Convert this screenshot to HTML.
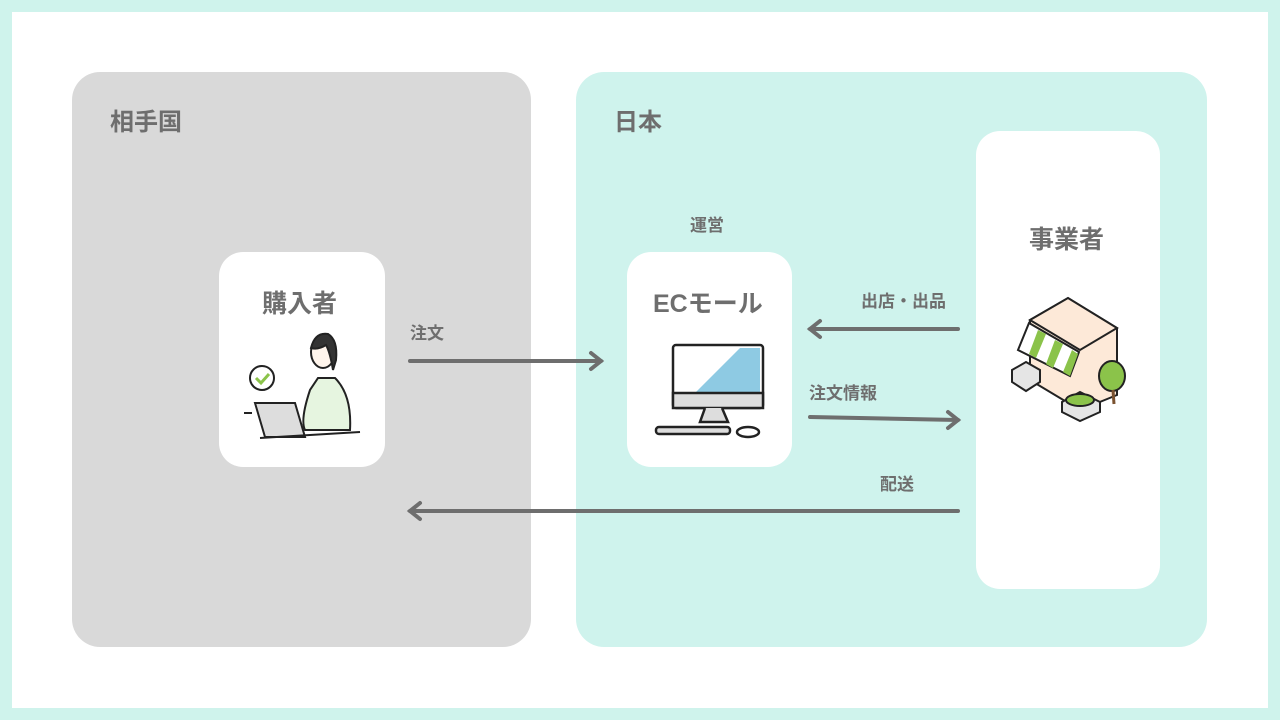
<!DOCTYPE html>
<html><head><meta charset="utf-8"><style>
body{margin:0;width:1280px;height:720px;background:#cff3ec;position:relative;overflow:hidden;font-family:"Liberation Sans","Noto Sans CJK JP",sans-serif;color:#6e6e6e;font-weight:bold}
.a{position:absolute}
.t{position:absolute;white-space:nowrap}
</style></head><body>
<div class="a" style="left:12px;top:12px;width:1256px;height:696px;background:#fff"></div>
<div class="a" style="left:72px;top:72px;width:459px;height:575px;background:#d9d9d9;border-radius:28px"></div>
<div class="a" style="left:576px;top:72px;width:631px;height:575px;background:#cff3ed;border-radius:28px"></div>
<div class="t" style="left:110px;top:102px;font-size:24px">相手国</div>
<div class="t" style="left:614px;top:102px;font-size:24px">日本</div>
<div class="a" style="left:219px;top:252px;width:166px;height:215px;background:#fff;border-radius:24px"></div>
<div class="a" style="left:627px;top:252px;width:165px;height:215px;background:#fff;border-radius:24px"></div>
<div class="a" style="left:976px;top:131px;width:184px;height:458px;background:#fff;border-radius:24px"></div>
<div class="t" style="left:262px;top:284px;font-size:25px">購入者</div>
<div class="t" style="left:653px;top:284px;font-size:25px">ECモール</div>
<div class="t" style="left:1029px;top:220px;font-size:25px">事業者</div>
<div class="t" style="left:690px;top:211px;font-size:17px">運営</div>
<div class="t" style="left:410px;top:319px;font-size:17px">注文</div>
<div class="t" style="left:861px;top:287px;font-size:17px">出店・出品</div>
<div class="t" style="left:809px;top:379px;font-size:17px">注文情報</div>
<div class="t" style="left:880px;top:470px;font-size:17px">配送</div>
<svg class="a" style="left:0;top:0" width="1280" height="720">
<g stroke="#6e6e6e" stroke-width="4" fill="none" stroke-linecap="round">
<line x1="410" y1="361" x2="601" y2="361"/><polyline points="591,353 601,361 591,369"/>
<line x1="958" y1="329" x2="810" y2="329"/><polyline points="820,321 810,329 820,337"/>
<line x1="810" y1="417" x2="958" y2="420"/><polyline points="948,412 958,420 948,428"/>
<line x1="958" y1="511" x2="410" y2="511"/><polyline points="420,503 410,511 420,519"/>
</g>
<g stroke="#222" stroke-width="2">
<circle cx="262" cy="378" r="12" fill="#fff"/>
<polyline points="256,378 261,383 269,374" stroke="#8bc34a" stroke-width="3" fill="none"/>
<path d="M310,390 Q300,420 305,430 L350,430 Q352,395 335,378 L318,378 Z" fill="#e6f5e0"/>
<ellipse cx="323" cy="352" rx="12" ry="16" fill="#fff5ec"/>
<path d="M311,348 Q315,332 328,334 Q338,340 336,360 L333,370 Q330,352 326,345 Q318,350 311,348Z" fill="#333"/>
<polygon points="255,403 295,403 305,437 265,437" fill="#ddd"/>
<line x1="260" y1="438" x2="360" y2="432"/>
<line x1="244" y1="413" x2="252" y2="413"/>
</g>
<g stroke="#222" stroke-width="2.5">
<rect x="673" y="345" width="90" height="63" rx="3" fill="#fff"/>
<polygon points="695,393 740,348 760,348 760,393" fill="#8ecae3" stroke="none"/>
<rect x="673" y="393" width="90" height="15" fill="#ddd"/>
<path d="M705,408 L700,422 L728,422 L722,408" fill="#ddd"/>
<rect x="656" y="427" width="74" height="7" rx="3" fill="#ddd"/>
<ellipse cx="748" cy="432" rx="11" ry="5" fill="#fff"/>
</g>
<g stroke="#222" stroke-width="2">
<polygon points="1030,320 1068,298 1117,328 1117,395 1080,410 1030,380" fill="#fde9d8"/>
<polygon points="1030,320 1068,298 1117,328 1080,350" fill="#fde9d8"/>
<polygon points="1029,323 1079,352 1070,376 1018,350" fill="#fff"/>
<g fill="#8bc34a" stroke="none"><polygon points="1038,330 1046,334 1036,358 1029,354"/><polygon points="1055,340 1063,344 1053,368 1046,364"/><polygon points="1072,350 1078,354 1070,376 1063,372"/></g>
<polygon points="1012,370 1026,362 1040,370 1040,382 1026,391 1012,382" fill="#e5e5e5"/>
<polygon points="1062,402 1080,392 1100,402 1100,412 1080,421 1062,412" fill="#e5e5e5"/>
<ellipse cx="1080" cy="400" rx="14" ry="6" fill="#8bc34a"/>
<ellipse cx="1112" cy="376" rx="13" ry="15" fill="#8bc34a"/>
<line x1="1113" y1="390" x2="1114" y2="404" stroke="#7a5230" stroke-width="3"/>
</g>
</svg>
</body></html>
